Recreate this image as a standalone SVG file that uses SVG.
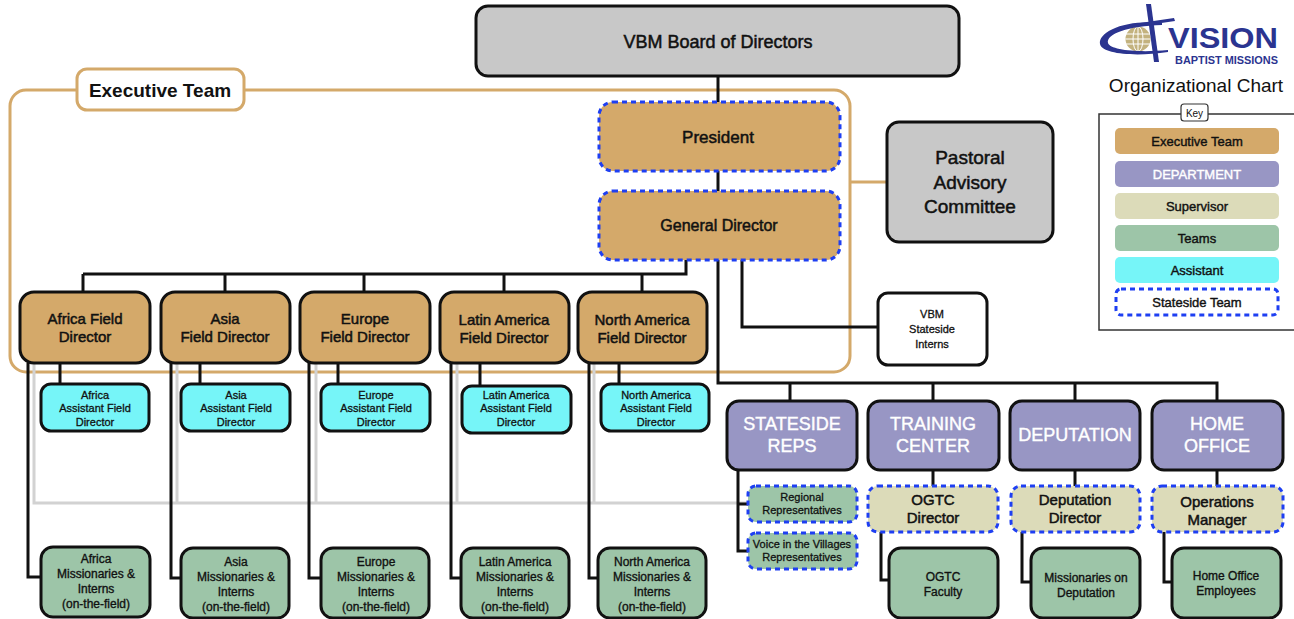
<svg xmlns="http://www.w3.org/2000/svg" width="1294" height="619" viewBox="0 0 1294 619">
<style>
text{font-family:"Liberation Sans",Arial,Helvetica,sans-serif;text-anchor:middle;fill:#111;stroke:#111;stroke-width:0.5}
.w{fill:#fff;stroke:#fff;stroke-width:0.4}
.box{stroke:#111;stroke-width:3}
.grey{fill:#C8C8C8}
.exec{fill:#D4A96A}
.dept{fill:#9896C4}
.sup{fill:#DCDBB9}
.team{fill:#9DC5A8}
.asst{fill:#76F5F8}
.dash{stroke:#1E3FF2;stroke-width:3;stroke-dasharray:5 4}
.ln{fill:none;stroke:#111;stroke-width:3}
.gl{fill:none;stroke:#D2D2D2;stroke-width:3}
.ol{fill:none;stroke:#D4A96A;stroke-width:3}
.f18{font-size:18px}.f15{font-size:15px}.f12{font-size:12px;stroke-width:0.35}.f11{font-size:11px;stroke-width:0.3}.f13{font-size:13px;stroke-width:0.4}
</style>

<g id="exec-container">
<rect x="10" y="90" width="840" height="282" rx="16" class="ol"/>
<line x1="850" y1="182" x2="887" y2="182" class="ol"/>
<rect x="77" y="69" width="167" height="41" rx="10" fill="#fff" stroke="#D4A96A" stroke-width="3"/>
<text x="160" y="97" style="font-size:19px;font-weight:bold;stroke-width:0">Executive Team</text>
</g>

<g id="connectors">
<polyline class="gl" points="34,363 34,503 748,503"/>
<line class="gl" x1="177" y1="363" x2="177" y2="503"/>
<line class="gl" x1="316" y1="363" x2="316" y2="503"/>
<line class="gl" x1="457" y1="363" x2="457" y2="503"/>
<line class="gl" x1="594" y1="363" x2="594" y2="503"/>
<line class="ln" x1="718" y1="76" x2="718" y2="102"/>
<line class="ln" x1="718" y1="171" x2="718" y2="191"/>
<polyline class="ln" points="686,260 686,274 83,274"/>
<line class="ln" x1="83" y1="274" x2="83" y2="292"/>
<line class="ln" x1="225" y1="274" x2="225" y2="292"/>
<line class="ln" x1="364" y1="274" x2="364" y2="292"/>
<line class="ln" x1="504" y1="274" x2="504" y2="292"/>
<line class="ln" x1="642" y1="274" x2="642" y2="292"/>
<polyline class="ln" points="742,260 742,327 878,327"/>
<polyline class="ln" points="718,260 718,383 1217,383 1217,401"/>
<line class="ln" x1="790" y1="383" x2="790" y2="401"/>
<line class="ln" x1="933" y1="383" x2="933" y2="401"/>
<line class="ln" x1="1075" y1="383" x2="1075" y2="401"/>
<line class="ln" x1="60" y1="363" x2="60" y2="384"/>
<line class="ln" x1="200" y1="363" x2="200" y2="384"/>
<line class="ln" x1="338" y1="363" x2="338" y2="384"/>
<line class="ln" x1="480" y1="363" x2="480" y2="386"/>
<line class="ln" x1="619" y1="363" x2="619" y2="384"/>
<polyline class="ln" points="28,363 28,577 41,577"/>
<polyline class="ln" points="171,363 171,578 181,578"/>
<polyline class="ln" points="309,363 309,578 321,578"/>
<polyline class="ln" points="451,363 451,578 461,578"/>
<polyline class="ln" points="589,363 589,578 598,578"/>
<polyline class="ln" points="738,470 738,551 748,551"/>
<line class="ln" x1="738" y1="504" x2="748" y2="504"/>
<line class="ln" x1="933" y1="470" x2="933" y2="486"/>
<line class="ln" x1="1075" y1="470" x2="1075" y2="486"/>
<line class="ln" x1="1217" y1="470" x2="1217" y2="486"/>
<polyline class="ln" points="881,532 881,580 889,580"/>
<polyline class="ln" points="1022,532 1022,582 1031,582"/>
<polyline class="ln" points="1164,532 1164,582 1172,582"/>
</g>

<g id="board"><rect x="476" y="6" width="483" height="70" rx="12" class="box grey"/><text x="718" y="48" class="f18">VBM Board of Directors</text></g>
<g id="president"><rect x="599" y="102" width="241" height="69" rx="14" class="exec dash"/><text x="718" y="143" style="font-size:17px">President</text></g>
<g id="general-director"><rect x="599" y="191" width="241" height="69" rx="14" class="exec dash"/><text x="719" y="231" style="font-size:16px">General Director</text></g>
<g id="pastoral"><rect x="887" y="122" width="166" height="120" rx="12" class="box grey"/><text x="970" y="164" style="font-size:19px">Pastoral</text><text x="970" y="189" style="font-size:19px">Advisory</text><text x="970" y="213" style="font-size:19px">Committee</text></g>
<g id="interns"><rect x="878" y="293" width="109" height="72" rx="10" class="box" fill="#fff"/><text x="932" y="318" class="f11">VBM</text><text x="932" y="333" class="f11">Stateside</text><text x="932" y="348" class="f11">Interns</text></g>

<g id="africa-director"><rect x="20" y="292" width="130" height="71" rx="14" class="box exec"/><text x="85" y="324" class="f15">Africa Field</text><text x="85" y="342" class="f15">Director</text></g>
<g id="asia-director"><rect x="161" y="292" width="129" height="71" rx="14" class="box exec"/><text x="225" y="324" class="f15">Asia</text><text x="225" y="342" class="f15">Field Director</text></g>
<g id="europe-director"><rect x="300" y="292" width="130" height="71" rx="14" class="box exec"/><text x="365" y="324" class="f15">Europe</text><text x="365" y="342" class="f15">Field Director</text></g>
<g id="latam-director"><rect x="440" y="292" width="129" height="71" rx="14" class="box exec"/><text x="504" y="325" class="f15">Latin America</text><text x="504" y="343" class="f15">Field Director</text></g>
<g id="namerica-director"><rect x="578" y="292" width="129" height="71" rx="14" class="box exec"/><text x="642" y="325" class="f15">North America</text><text x="642" y="343" class="f15">Field Director</text></g>

<g id="africa-assistant"><rect x="41" y="384" width="108" height="47" rx="10" class="box asst"/><text x="95" y="399" class="f11">Africa</text><text x="95" y="412" class="f11">Assistant Field</text><text x="95" y="426" class="f11">Director</text></g>
<g id="asia-assistant"><rect x="181" y="384" width="109" height="47" rx="10" class="box asst"/><text x="236" y="399" class="f11">Asia</text><text x="236" y="412" class="f11">Assistant Field</text><text x="236" y="426" class="f11">Director</text></g>
<g id="europe-assistant"><rect x="321" y="384" width="109" height="47" rx="10" class="box asst"/><text x="376" y="399" class="f11">Europe</text><text x="376" y="412" class="f11">Assistant Field</text><text x="376" y="426" class="f11">Director</text></g>
<g id="latam-assistant"><rect x="462" y="386" width="109" height="47" rx="10" class="box asst"/><text x="516" y="399" class="f11">Latin America</text><text x="516" y="412" class="f11">Assistant Field</text><text x="516" y="426" class="f11">Director</text></g>
<g id="namerica-assistant"><rect x="601" y="384" width="108" height="47" rx="10" class="box asst"/><text x="656" y="399" class="f11">North America</text><text x="656" y="412" class="f11">Assistant Field</text><text x="656" y="426" class="f11">Director</text></g>

<g id="africa-missionaries"><rect x="41" y="547" width="109" height="70" rx="12" class="box team"/><text x="96" y="563" class="f12">Africa</text><text x="96" y="578" class="f12">Missionaries &amp;</text><text x="96" y="593" class="f12">Interns</text><text x="96" y="608" class="f12">(on-the-field)</text></g>
<g id="asia-missionaries"><rect x="181" y="548" width="108" height="70" rx="12" class="box team"/><text x="236" y="566" class="f12">Asia</text><text x="236" y="581" class="f12">Missionaries &amp;</text><text x="236" y="596" class="f12">Interns</text><text x="236" y="611" class="f12">(on-the-field)</text></g>
<g id="europe-missionaries"><rect x="321" y="548" width="108" height="70" rx="12" class="box team"/><text x="376" y="566" class="f12">Europe</text><text x="376" y="581" class="f12">Missionaries &amp;</text><text x="376" y="596" class="f12">Interns</text><text x="376" y="611" class="f12">(on-the-field)</text></g>
<g id="latam-missionaries"><rect x="461" y="548" width="108" height="70" rx="12" class="box team"/><text x="515" y="566" class="f12">Latin America</text><text x="515" y="581" class="f12">Missionaries &amp;</text><text x="515" y="596" class="f12">Interns</text><text x="515" y="611" class="f12">(on-the-field)</text></g>
<g id="namerica-missionaries"><rect x="598" y="548" width="108" height="70" rx="12" class="box team"/><text x="652" y="566" class="f12">North America</text><text x="652" y="581" class="f12">Missionaries &amp;</text><text x="652" y="596" class="f12">Interns</text><text x="652" y="611" class="f12">(on-the-field)</text></g>

<g id="stateside-reps"><rect x="727" y="401" width="130" height="69" rx="12" class="box dept"/><text x="792" y="430" class="f18 w">STATESIDE</text><text x="792" y="452" class="f18 w">REPS</text></g>
<g id="training-center"><rect x="868" y="401" width="131" height="69" rx="12" class="box dept"/><text x="933" y="430" class="f18 w">TRAINING</text><text x="933" y="452" class="f18 w">CENTER</text></g>
<g id="deputation"><rect x="1010" y="401" width="130" height="69" rx="12" class="box dept"/><text x="1075" y="441" class="f18 w">DEPUTATION</text></g>
<g id="home-office"><rect x="1152" y="401" width="131" height="69" rx="12" class="box dept"/><text x="1217" y="430" class="f18 w">HOME</text><text x="1217" y="452" class="f18 w">OFFICE</text></g>

<g id="regional-reps"><rect x="748" y="486" width="109" height="36" rx="8" class="team dash"/><text x="802" y="501" class="f11">Regional</text><text x="802" y="514" class="f11">Representatives</text></g>
<g id="villages-reps"><rect x="748" y="533" width="109" height="36" rx="8" class="team dash"/><text x="802" y="548" class="f11">Voice in the Villages</text><text x="802" y="561" class="f11">Representatives</text></g>

<g id="ogtc-director"><rect x="868" y="486" width="130" height="46" rx="10" class="sup dash"/><text x="933" y="505" class="f15">OGTC</text><text x="933" y="523" class="f15">Director</text></g>
<g id="deputation-director"><rect x="1011" y="486" width="129" height="46" rx="10" class="sup dash"/><text x="1075" y="505" class="f15">Deputation</text><text x="1075" y="523" class="f15">Director</text></g>
<g id="operations-manager"><rect x="1152" y="486" width="131" height="46" rx="10" class="sup dash"/><text x="1217" y="507" class="f15">Operations</text><text x="1217" y="525" class="f15">Manager</text></g>

<g id="ogtc-faculty"><rect x="889" y="548" width="109" height="70" rx="12" class="box team"/><text x="943" y="581" class="f12">OGTC</text><text x="943" y="596" class="f12">Faculty</text></g>
<g id="missionaries-deputation"><rect x="1031" y="548" width="109" height="70" rx="12" class="box team"/><text x="1086" y="582" class="f12">Missionaries on</text><text x="1086" y="597" class="f12">Deputation</text></g>
<g id="home-office-employees"><rect x="1172" y="548" width="109" height="70" rx="12" class="box team"/><text x="1226" y="580" class="f12">Home Office</text><text x="1226" y="595" class="f12">Employees</text></g>

<g id="logo">
<circle cx="1138" cy="39" r="12.5" fill="#C3B27E"/>
<g fill="none" stroke="#fff" stroke-width="1">
<ellipse cx="1138" cy="39" rx="5" ry="12.5"/>
<line x1="1138" y1="26.5" x2="1138" y2="51.5"/>
<line x1="1126" y1="34" x2="1150" y2="34"/>
<line x1="1125.5" y1="39" x2="1150.5" y2="39"/>
<line x1="1126" y1="44" x2="1150" y2="44"/>
</g>
<path d="M1162,23 C1125,19 1098,32 1100,44 C1102,54 1135,57 1168,52 L1168,50 C1138,53 1110,50 1108,43 C1106,34 1128,26 1162,25 Z" fill="#2B3490"/>
<path d="M1146,4 L1151,4 L1159,62 L1154,62 Z" fill="#2B3490"/>
<path d="M1140,23 L1174,18 L1175,21 L1141,26 Z" fill="#2B3490"/>
<text x="1168" y="48" textLength="110" lengthAdjust="spacingAndGlyphs" style="text-anchor:start;font-size:30px;font-weight:bold;fill:#2B3490;stroke:none">VISION</text>
<text x="1175" y="64" textLength="103" lengthAdjust="spacingAndGlyphs" style="text-anchor:start;font-size:10px;font-weight:bold;fill:#2B3490;stroke:none">BAPTIST MISSIONS</text>
</g>
<g id="title"><text x="1196" y="92" style="font-size:19px;stroke-width:0">Organizational Chart</text></g>

<g id="key">
<rect x="1099" y="114" width="200" height="216" fill="#fff" stroke="#333" stroke-width="1.5"/>
<rect x="1181" y="104" width="27" height="17" rx="3" fill="#fff" stroke="#333" stroke-width="1.2"/>
<text x="1194.5" y="117" style="font-size:10px;stroke-width:0">Key</text>
<rect x="1115" y="128" width="164" height="26" rx="5" class="exec"/><text x="1197" y="146" class="f13">Executive Team</text>
<rect x="1115" y="161" width="164" height="26" rx="5" class="dept"/><text x="1197" y="179" class="f13 w">DEPARTMENT</text>
<rect x="1115" y="193" width="164" height="26" rx="5" class="sup"/><text x="1197" y="211" class="f13">Supervisor</text>
<rect x="1115" y="225" width="164" height="26" rx="5" class="team"/><text x="1197" y="243" class="f13">Teams</text>
<rect x="1115" y="257" width="164" height="26" rx="5" class="asst"/><text x="1197" y="275" class="f13">Assistant</text>
<rect x="1116" y="289" width="162" height="26" rx="5" fill="#fff" class="dash"/><text x="1197" y="307" class="f13">Stateside Team</text>
</g>
</svg>
